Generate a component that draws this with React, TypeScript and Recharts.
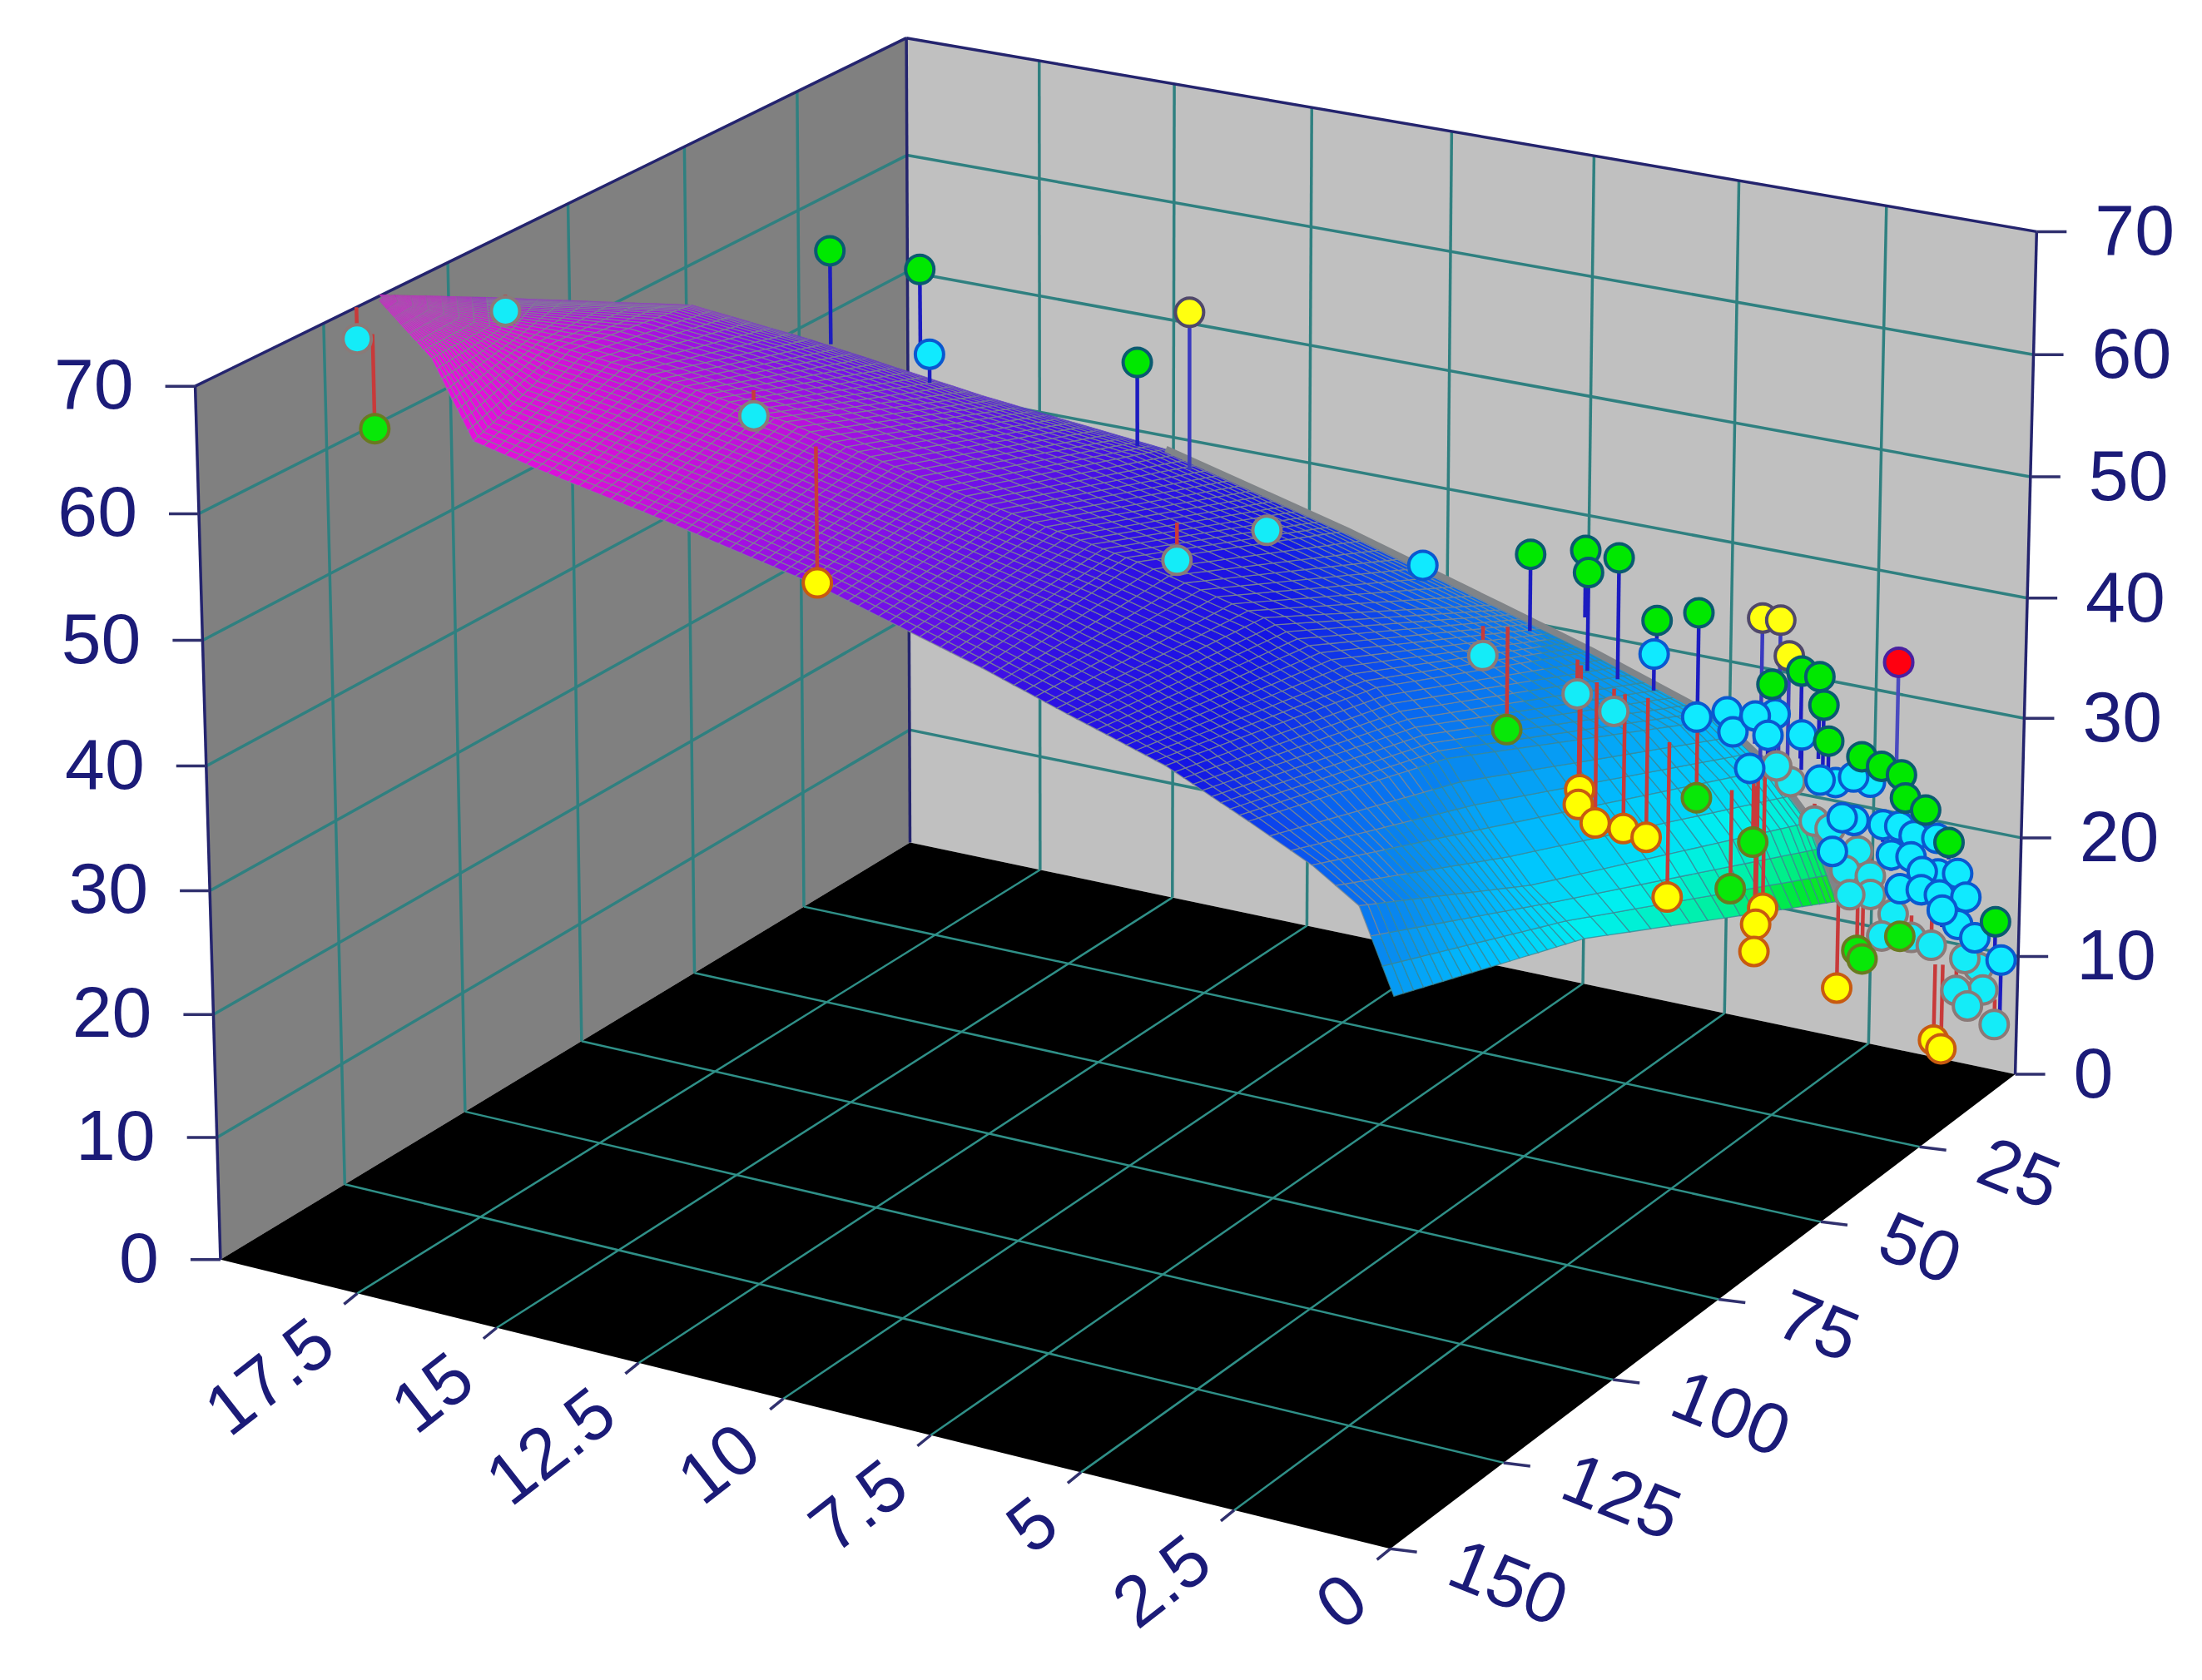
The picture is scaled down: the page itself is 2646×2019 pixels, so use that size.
import { ScatterChart, Scatter, XAxis, YAxis } from "recharts";

const W = 2646;
const H = 2019;
const SCALE = 1.6875;

const xTicks = [0, 2.5, 5, 7.5, 10, 12.5, 15, 17.5];
const yTicks = [25, 50, 75, 100, 125, 150];
const zTicks = [0, 10, 20, 30, 40, 50, 60, 70];

const frontX = [0, 0.55, 1.29, 2.29, 3.61, 5.18, 6.57, 9.27, 11.83, 14.0, 15.09, 17.42, 19.98];
const frontY = [150, 150, 150, 150, 150, 150, 150, 150, 150, 150, 150, 132, 114];
const frontZ = [42.0, 48.2, 50.5, 52.8, 55.7, 58.1, 60.3, 64.1, 66.8, 68.9, 70.1, 71.0, 70.0];
const midX = [0.83, 1.63, 2.25, 2.8, 3.73, 5.43, 7.3, 9.97, 12.52, 15.45, 16.98, 18.34, 19.93];
const midY = [96, 97, 98, 100, 103, 105, 108, 113, 117, 110, 109, 110, 114];
const midZ = [32.9, 36.5, 40.6, 45.9, 51.2, 55.5, 58.8, 63.0, 67.1, 67.0, 67.5, 68.5, 70.3];
const backX = [0.31, 0.67, 1.13, 1.8, 3.52, 4.82, 6.93, 9.36, 12.45, 15.84, 17.3, 20.0, 19.98];
const backY = [42, 44, 47, 50, 56, 60, 66, 75, 76, 72, 80, 92, 114];
const backZ = [23.9, 30.4, 34.9, 38.9, 44.1, 47.5, 52.8, 59.1, 61.0, 62.0, 65.2, 66.0, 70.5];

// measured points: [x, y, z measured, z fitted]
const cyanBelow = [
  [19.11, 128, 70.4, 72.9], [18.23, 108, 69.4, 70.7], [13.08, 117, 67.1, 69.1], [6.26, 113, 60.9, 63.8],
  [6.51, 90, 58.2, 59.3], [2.94, 90, 51.6, 53.9], [2.45, 75, 45.8, 48.5], [2.33, 68, 43.0, 44.8],
  [0.57, 51, 35.3, 36.6], [0.6, 54, 37.2, 38.4], [0.56, 45, 30.8, 32.2], [0.56, 41, 29.3, 30.7],
  [0.55, 34, 25.9, 27.0], [0.56, 37, 25.0, 26.4], [0.53, 31, 23.2, 24.6], [0.52, 31, 21.7, 23.1],
  [0.54, 36, 22.8, 24.2], [0.46, 26, 19.0, 20.3], [0.45, 29, 17.9, 19.8], [0.41, 22, 16.2, 18.0],
  [0.39, 17, 14.4, 16.5], [0.35, 5, 9.8, 11.8], [0.33, 9, 11.5, 13.0], [0.33, 4, 7.7, 9.5],
  [0.34, 11, 9.3, 11.1], [0.33, 8, 7.3, 9.2], [0.25, 2, 4.4, 6.5],
];
const cyanAbove = [
  [13.47, 75, 63.3, 61.0], [5.23, 72, 52.8, 51.8], [2.23, 60, 45.9, 43.0], [1.72, 57, 40.7, 39.7],
  [1.29, 56, 41.3, 40.3], [1.19, 56, 39.8, 38.8], [0.64, 54, 41.3, 37.8], [0.83, 56, 41.4, 39.2],
  [0.75, 54, 39.5, 37.1], [0.79, 45, 37.5, 34.7], [0.64, 60, 38.3, 37.3], [0.55, 40, 32.8, 31.8],
  [0.61, 43, 33.6, 32.5], [0.56, 31, 30.8, 29.8], [0.58, 35, 32.1, 31.1], [0.56, 35, 28.6, 27.3],
  [0.56, 38, 29.5, 28.6], [0.53, 28, 26.7, 25.3], [0.51, 24, 25.7, 24.4], [0.46, 21, 24.3, 23.0],
  [0.4, 16, 23.0, 21.8], [0.58, 40, 27.2, 26.2], [0.51, 26, 23.8, 22.5], [0.44, 22, 22.8, 21.7],
  [0.43, 15, 19.8, 18.7], [0.44, 19, 20.9, 19.8], [0.42, 10, 18.7, 17.5], [0.48, 24, 20.6, 19.2],
  [0.45, 19, 19.4, 18.1], [0.4, 15, 18.1, 16.9], [0.4, 8, 16.3, 15.0], [0.4, 10, 14.5, 13.4],
  [0.41, 14, 16.6, 15.2], [0.36, 6, 12.5, 11.3], [0.16, 2, 9.9, 5.0],
];
const greenAbove = [
  [14.56, 83, 72.3, 64.8], [13.63, 75, 70.0, 63.4], [9.85, 75, 65.6, 58.9], [4.08, 63, 52.8, 46.7],
  [3.17, 63, 53.9, 48.6], [3.12, 63, 52.2, 44.4], [2.62, 63, 53.8, 44.2], [2.19, 60, 48.6, 45.5],
  [1.71, 57, 49.0, 41.2], [0.7, 54, 43.6, 37.2], [0.81, 45, 42.6, 35.6], [0.71, 42, 41.6, 35.0],
  [0.7, 41, 39.1, 34.3], [0.61, 41, 36.3, 34.0], [0.58, 33, 33.3, 30.9], [0.51, 29, 31.7, 30.1],
  [0.5, 24, 29.9, 28.4], [0.49, 23, 27.8, 26.5], [0.47, 18, 25.7, 24.2], [0.45, 12, 21.7, 20.3],
  [0.27, 2, 13.0, 10.2],
];
const greenBelow = [
  [18.83, 128, 63.5, 71.0], [2.54, 90, 46.2, 54.2], [1.3, 63, 36.0, 41.3], [0.39, 68, 30.8, 38.6],
  [0.57, 60, 32.5, 37.9], [0.47, 35, 18.1, 21.9], [0.51, 33, 16.9, 21.4], [0.47, 24, 16.7, 18.6],
];
const yellowBelow = [
  [9.85, 143, 62.3, 72.7], [2.39, 75, 38.3, 48.1], [2.41, 75, 37.1, 46.7], [2.13, 75, 35.9, 47.0],
  [1.67, 75, 35.9, 46.5], [1.5, 72, 34.7, 45.7], [0.94, 75, 31.2, 43.4], [0.39, 60, 27.4, 38.1],
  [0.5, 60, 26.0, 37.6], [0.52, 60, 23.8, 37.0], [0.53, 39, 15.9, 24.1], [0.38, 16, 6.3, 12.6],
  [0.38, 14, 5.1, 12.1],
];
const yellowAbove = [
  [9.49, 68, 68.5, 55.9], [0.87, 54, 48.7, 37.0], [0.84, 50, 47.7, 36.6], [0.69, 50, 45.0, 36.3],
];
const redAbove = [[0.65, 23, 38.7, 30.3]];

// camera of the 3D box, maps (x, y, z) to the flat plot
const project = (x: number, y: number, z: number) => {
  const u = x / 20;
  const v = y / 150;
  const w = z / 70;
  const X = -741.12 * u - 540.99 * v + 1435 - 21 * w;
  const Y = -122.52 * u + 231.05 * v + 765 - 610 * w;
  const D = 0.0708 * u - 0.09696 * v + 1 - 0.025 * w;
  return { px: (X / D) * SCALE, py: (Y / D) * SCALE };
};

// the drawn box is not quite a true perspective, small nudge for walls and ticks only
const boxPoint = (x: number, y: number, z: number) => {
  const u = x / 20;
  const v = y / 150;
  const w = z / 70;
  const p = project(x, y, z);
  return {
    px: p.px + SCALE * w * 2 * u * (1 - v),
    py: p.py + SCALE * w * (6 * (1 - u) - 4 * u * (1 - v) - 2.7 * u * v),
  };
};

const colorStops: [number, number[]][] = [
  [22, [70, 225, 0]],
  [26, [0, 232, 48]],
  [29, [0, 240, 160]],
  [33, [0, 240, 240]],
  [38, [0, 192, 255]],
  [44, [8, 144, 240]],
  [50, [8, 96, 240]],
  [55, [20, 20, 228]],
  [59, [48, 16, 228]],
  [63, [120, 16, 232]],
  [66, [170, 16, 224]],
  [68, [215, 16, 216]],
  [70, [228, 16, 220]],
  [72, [240, 16, 224]],
];
const surfaceColor = (z: number) => {
  if (z <= colorStops[0][0]) return `rgb(${colorStops[0][1].join(",")})`;
  for (let i = 1; i < colorStops.length; i++) {
    const [z1, c1] = colorStops[i];
    if (z <= z1) {
      const [z0, c0] = colorStops[i - 1];
      const t = (z - z0) / (z1 - z0);
      return `rgb(${c0.map((c, k) => Math.round(c + (c1[k] - c) * t)).join(",")})`;
    }
  }
  return "rgb(240,16,224)";
};

const axisProps = { type: "number" as const, hide: true };
const noDot = () => <g />;

const Plane = ({ cx, cy, payload, fill }: any) => {
  const dx = cx - payload.px;
  const dy = cy - payload.py;
  const pts = payload.corners.map((c: any) => `${c.px + dx},${c.py + dy}`).join(" ");
  return <polygon points={pts} fill={fill} stroke="none" />;
};

// one patch of the surface, shaded in thin bands like the mesh of the original
const Patch = ({ cx, cy, payload }: any) => {
  const dx = cx - payload.px;
  const dy = cy - payload.py;
  const { a, b, c, d, along, rib } = payload;
  const across = 20;
  const node = (s: number, tau: number) => {
    const t = rib === 1 ? 1 - Math.pow(1 - tau, 1.8) : tau;
    const mix = (k: number) => {
      const p = a[k] + (b[k] - a[k]) * t;
      const q = d[k] + (c[k] - d[k]) * t;
      return p + (q - p) * s;
    };
    return [mix(0), mix(1), mix(2)];
  };
  const bands = [];
  for (let i = 0; i < along; i++) {
    for (let j = 0; j < across; j++) {
      const n = [
        node(i / along, j / across),
        node(i / along, (j + 1) / across),
        node((i + 1) / along, (j + 1) / across),
        node((i + 1) / along, j / across),
      ];
      const q = n.map(p => project(p[0], p[1], p[2]));
      const area = Math.abs(
        q.reduce((s, p, k) => {
          const r = q[(k + 1) % 4];
          return s + p.px * r.py - r.px * p.py;
        }, 0)
      ) / 2;
      const pts = q.map(p => `${(p.px + dx).toFixed(1)},${(p.py + dy).toFixed(1)}`).join(" ");
      const z = (n[0][2] + n[1][2] + n[2][2] + n[3][2]) / 4;
      bands.push(
        <polygon
          key={`${i}-${j}`}
          points={pts}
          fill={surfaceColor(z)}
          stroke={z < 46 ? "#3a8896" : "#7c8890"}
          strokeWidth={1.3}
          strokeOpacity={Math.min(0.78, area / 60)}
        />
      );
    }
  }
  return <g>{bands}</g>;
};

const Stem = ({ cx, cy, payload, stroke }: any) => {
  const dx = payload.base.px - payload.px;
  const dy = payload.base.py - payload.py;
  return <line x1={cx} y1={cy} x2={cx + dx} y2={cy + dy} stroke={stroke} strokeWidth={4.5} />;
};

const Marker = ({ cx, cy, fill, stroke }: any) => (
  <circle cx={cx} cy={cy} r={17} fill={fill} stroke={stroke} strokeWidth={4} />
);

const Tick = ({ cx, cy, payload }: any) => {
  const { label, tick, text, anchor, angle } = payload;
  const tx = cx + text[0];
  const ty = cy + text[1];
  return (
    <g>
      <line x1={cx} y1={cy} x2={cx + tick[0]} y2={cy + tick[1]} stroke="#30306e" strokeWidth={3.5} />
      <text
        x={tx}
        y={ty}
        dy="0.36em"
        textAnchor={anchor}
        transform={angle ? `rotate(${angle} ${tx} ${ty})` : undefined}
        fontFamily="Liberation Sans"
        fontSize={86}
        fill="#1b1b78"
      >
        {label}
      </text>
    </g>
  );
};

const seg = (a: number[], b: number[]) => [boxPoint(a[0], a[1], a[2]), boxPoint(b[0], b[1], b[2])];

const wallLines = [
  ...xTicks.slice(1).map(x => seg([x, 0, 0], [x, 0, 70])),
  ...zTicks.slice(1, -1).map(z => seg([0, 0, z], [20, 0, z])),
  ...yTicks.slice(0, -1).map(y => seg([20, y, 0], [20, y, 70])),
  ...zTicks.slice(1, -1).map(z => seg([20, 0, z], [20, 150, z])),
];
const floorLines = [
  ...xTicks.slice(1).map(x => seg([x, 0, 0], [x, 150, 0])),
  ...yTicks.slice(0, -1).map(y => seg([0, y, 0], [20, y, 0])),
];
const frameLines = [
  seg([20, 150, 0], [20, 150, 70]),
  seg([20, 150, 70], [20, 0, 70]),
  seg([20, 0, 70], [0, 0, 70]),
  seg([0, 0, 70], [0, 0, 0]),
  seg([20, 0, 70], [20, 0, 0]),
];

const plane = (corners: number[][]) => {
  const pts = corners.map(c => boxPoint(c[0], c[1], c[2]));
  return [{ ...pts[0], corners: pts }];
};

const surfaceRows = frontX.map((_, i) => [
  [frontX[i], frontY[i], frontZ[i]],
  [midX[i], midY[i], midZ[i]],
  [backX[i], backY[i], backZ[i]],
]);
const patches: any[] = [];
for (let i = 0; i < surfaceRows.length - 1; i++) {
  const p0 = project(frontX[i], frontY[i], frontZ[i]);
  const p1 = project(frontX[i + 1], frontY[i + 1], frontZ[i + 1]);
  const len = Math.hypot(p1.px - p0.px, p1.py - p0.py);
  const along = Math.max(2, Math.round(len / (i < 3 ? 34 : 14)));
  for (let j = 1; j >= 0; j--) {
    const a = surfaceRows[i][j];
    const b = surfaceRows[i][j + 1];
    const c = surfaceRows[i + 1][j + 1];
    const d = surfaceRows[i + 1][j];
    patches.push({ ...project(a[0], a[1], a[2]), a, b, c, d, along, rib: j });
  }
}
patches.reverse();

const backEdge = backX.slice(0, 8).map((x, i) => project(x, backY[i], backZ[i]));

const points = (list: number[][]) =>
  list.map(p => ({ ...project(p[0], p[1], p[2]), base: project(p[0], p[1], p[3]) }));

const groups = [
  { list: cyanBelow, fill: "#14ecf8", stroke: "#8a7a78", stem: "#c83a3a" },
  { list: cyanAbove, fill: "#10eaff", stroke: "#0a58d0", stem: "#1c1cc0" },
  { list: yellowAbove, fill: "#ffff10", stroke: "#50486a", stem: "#3a3ac0" },
  { list: yellowBelow, fill: "#ffff00", stroke: "#c85a10", stem: "#c83a3a" },
  { list: greenBelow, fill: "#08e808", stroke: "#6a7a20", stem: "#c83a3a" },
  { list: greenAbove, fill: "#00e800", stroke: "#0a5a70", stem: "#1c1cc0" },
  { list: redAbove, fill: "#ff0010", stroke: "#4a20a0", stem: "#4a4ac0" },
];

const zLeftTicks = zTicks.map(z => ({
  ...boxPoint(20, 150, z),
  label: String(z),
  tick: [-36, 0],
  text: [-74, -4],
  anchor: "end",
}));
const zRightTicks = zTicks.map(z => ({
  ...boxPoint(0, 0, z),
  label: String(z),
  tick: [36, 0],
  text: [70, -3],
  anchor: "start",
}));
const xLabels = xTicks.map(x => ({
  ...boxPoint(x, 150, 0),
  label: String(x),
  tick: [-16, 13],
  text: [-41, 47],
  anchor: "end",
  angle: -38,
}));
const yLabels = yTicks.map(y => ({
  ...boxPoint(0, y, 0),
  label: String(y),
  tick: [32, 4],
  text: [76, 12],
  anchor: "start",
  angle: 22,
}));

export default function App() {
  return (
    <div style={{ position: "absolute", left: 0, top: 0, background: "#fff" }}>
      <ScatterChart width={W} height={H} margin={{ top: 0, right: 0, bottom: 0, left: 0 }}>
        <XAxis {...axisProps} dataKey="px" domain={[0, W]} />
        <YAxis {...axisProps} dataKey="py" domain={[0, H]} reversed />

        <Scatter data={plane([[20, 0, 0], [20, 150, 0], [20, 150, 70], [20, 0, 70]])} isAnimationActive={false} shape={(p: any) => <Plane {...p} fill="#808080" />} />
        <Scatter data={plane([[0, 0, 0], [20, 0, 0], [20, 0, 70], [0, 0, 70]])} isAnimationActive={false} shape={(p: any) => <Plane {...p} fill="#c0c0c0" />} />
        <Scatter data={plane([[0, 0, 0], [20, 0, 0], [20, 150, 0], [0, 150, 0]])} isAnimationActive={false} shape={(p: any) => <Plane {...p} fill="#000000" />} />

        {wallLines.map((l, i) => (
          <Scatter key={`w${i}`} data={l} isAnimationActive={false} shape={noDot} line={{ stroke: "#2f8080", strokeWidth: 3.5 }} />
        ))}
        {floorLines.map((l, i) => (
          <Scatter key={`f${i}`} data={l} isAnimationActive={false} shape={noDot} line={{ stroke: "#2f9088", strokeWidth: 2.5 }} />
        ))}
        {frameLines.map((l, i) => (
          <Scatter key={`e${i}`} data={l} isAnimationActive={false} shape={noDot} line={{ stroke: "#24246e", strokeWidth: 3.5 }} />
        ))}

        <Scatter data={patches} isAnimationActive={false} shape={(p: any) => <Patch {...p} />} />
        <Scatter data={backEdge} isAnimationActive={false} shape={noDot} line={{ stroke: "#808488", strokeWidth: 8 }} />

        {groups.map((g, i) => (
          <Scatter key={`s${i}`} data={points(g.list)} isAnimationActive={false} shape={(p: any) => <Stem {...p} stroke={g.stem} />} />
        ))}
        {groups.map((g, i) => (
          <Scatter key={`m${i}`} data={points(g.list)} isAnimationActive={false} shape={(p: any) => <Marker {...p} fill={g.fill} stroke={g.stroke} />} />
        ))}

        <Scatter data={zLeftTicks} isAnimationActive={false} shape={(p: any) => <Tick {...p} />} />
        <Scatter data={zRightTicks} isAnimationActive={false} shape={(p: any) => <Tick {...p} />} />
        <Scatter data={xLabels} isAnimationActive={false} shape={(p: any) => <Tick {...p} />} />
        <Scatter data={yLabels} isAnimationActive={false} shape={(p: any) => <Tick {...p} />} />
      </ScatterChart>
    </div>
  );
}
